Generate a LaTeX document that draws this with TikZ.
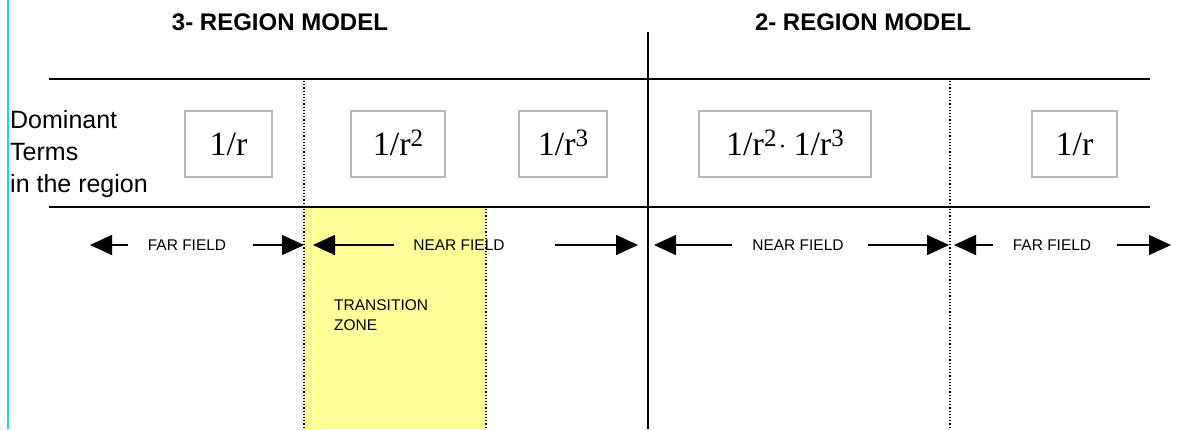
\documentclass[tikz,border=0pt]{standalone}
\usepackage{fontspec}
\setmainfont{Liberation Sans}
\newfontfamily\timesf{Liberation Serif}
\usetikzlibrary{arrows.meta}

\definecolor{zoneyellow}{HTML}{FFFF99}
\definecolor{marginblue}{HTML}{22CCFF}
\definecolor{boxgray}{HTML}{B8B8B8}

% raised exponent as printed in the boxes
\newcommand\rexp[1]{\raisebox{9pt}{\fontsize{25}{25}\selectfont #1}}
\newcommand\rdot{\raisebox{1.5pt}{\fontsize{24}{24}\selectfont ·}}

\tikzset{
    rule/.style={line width=1.5pt},
    divider/.style={dotted, line width=1.2pt},
    termbox/.style={draw=boxgray, line width=1.5pt, minimum height=66pt, inner sep=0pt,
        text height=23.5pt, text depth=0.5pt,
        font=\timesf\fontsize{34}{34}\selectfont},
    fieldlabel/.style={inner sep=0pt, font=\fontsize{15.5}{18}\selectfont},
    fieldarrow/.style={-{Triangle[length=22pt,width=20pt]}, line width=1.5pt},
    title/.style={anchor=base, inner sep=0pt, font=\bfseries\fontsize{24}{28}\selectfont}
}

\begin{document}
\begin{tikzpicture}[x=1pt, y=-1pt]
    \useasboundingbox (0,0) rectangle (1179,429);

    % transition zone
    \fill[zoneyellow] (304,207) rectangle (486,429);

    % margin line
    \draw[marginblue, line width=2pt] (8,0) -- (8,429);

    % titles
    \node[title] (model3) at (280,30) {3- REGION MODEL};
    \node[title] (model2) at (863,30) {2- REGION MODEL};

    % table rules
    \draw[rule] (49,79) -- (1150,79);
    \draw[rule] (49,207) -- (1150,207);
    \draw[rule] (648,32) -- (648,429);
    \draw[divider] (304,81) -- (304,429);
    \draw[divider] (950,81) -- (950,429);
    \draw[divider] (486,209) -- (486,429);

    % row label
    \node[anchor=north west, inner sep=0pt, align=left,
        font=\fontsize{25}{32}\selectfont] (dominant) at (10,109.7)
        {Dominant\\Terms\\in the region};

    % dominant terms
    \node[termbox, minimum width=87pt] (term1) at (228.5,144) {1/r};
    \node[termbox, minimum width=94pt] (term2) at (398,144) {1/r\rexp{2}};
    \node[termbox, minimum width=88pt] (term3) at (563,144) {1/r\rexp{3}};
    \node[termbox, minimum width=172pt] (term23) at (785,144)
        {1/r\rexp{2}\hspace{2pt}\rdot\hspace{7pt}1/r\rexp{3}};
    \node[termbox, minimum width=85pt] (term4) at (1074.5,144) {1/r};

    % field labels
    \node[fieldlabel] (far1) at (187,245.5) {FAR FIELD};
    \node[fieldlabel] (near1) at (459,245.5) {NEAR FIELD};
    \node[fieldlabel] (near2) at (798,245.5) {NEAR FIELD};
    \node[fieldlabel] (far2) at (1052,245.5) {FAR FIELD};

    \coordinate (far1a) at (128,245);  \coordinate (far1b) at (90,245);
    \coordinate (far1c) at (253,245);  \coordinate (far1d) at (304,245);
    \coordinate (near1a) at (394,245); \coordinate (near1b) at (313,245);
    \coordinate (near1c) at (555,245); \coordinate (near1d) at (638,245);
    \coordinate (near2a) at (732,245); \coordinate (near2b) at (654,245);
    \coordinate (near2c) at (868,245); \coordinate (near2d) at (949,245);
    \coordinate (far2a) at (993,245);  \coordinate (far2b) at (954,245);
    \coordinate (far2c) at (1117,245); \coordinate (far2d) at (1171,245);

    \draw[fieldarrow] (far1a) -- (far1b);
    \draw[fieldarrow] (far1c) -- (far1d);
    \draw[fieldarrow] (near1a) -- (near1b);
    \draw[fieldarrow] (near1c) -- (near1d);
    \draw[fieldarrow] (near2a) -- (near2b);
    \draw[fieldarrow] (near2c) -- (near2d);
    \draw[fieldarrow] (far2a) -- (far2b);
    \draw[fieldarrow] (far2c) -- (far2d);

    % zone text
    \node[anchor=north west, inner sep=0pt, align=left,
        font=\fontsize{15.5}{20}\selectfont] (zone) at (334,299.7)
        {TRANSITION\\ZONE};
\end{tikzpicture}
\end{document}
